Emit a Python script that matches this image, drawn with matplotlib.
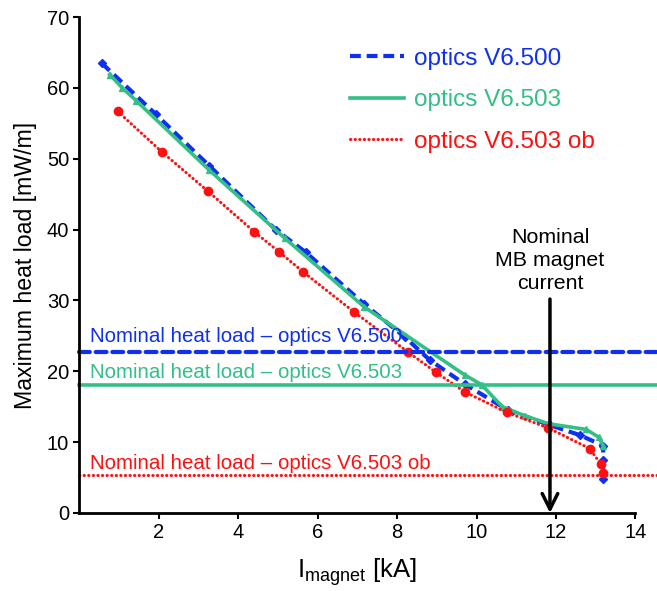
import matplotlib
matplotlib.use("Agg")
import matplotlib.pyplot as plt

# ---- data ----
x_v6500 = [0.56, 1.92, 3.27, 4.96, 5.70, 7.17, 8.20, 8.82, 9.70, 10.80, 11.85, 12.60, 13.19, 13.19, 13.19]
y_v6500 = [63.5, 56.3, 49.0, 39.9, 36.8, 29.5, 24.8, 21.6, 18.2, 14.5, 12.4, 11.0, 9.5, 7.5, 4.8]

x_v6503 = [0.76, 1.08, 1.43, 3.27, 5.17, 7.17, 9.70, 10.13, 10.65, 11.23, 11.81, 12.76, 13.08, 13.19]
y_v6503 = [61.9, 60.0, 58.2, 48.4, 38.8, 29.1, 19.5, 18.1, 15.0, 13.7, 12.6, 11.8, 10.7, 9.5]

x_v6503ob = [0.96, 2.07, 3.24, 4.40, 5.02, 5.64, 6.91, 8.28, 8.97, 9.70, 10.76, 11.81, 12.85, 13.13, 13.19]
y_v6503ob = [56.7, 51.0, 45.4, 39.7, 36.9, 34.0, 28.4, 22.7, 19.9, 17.1, 14.2, 12.0, 9.1, 6.9, 5.7]

nominal_loads = [22.7, 18.1, 5.3]
nominal_labels = ["Nominal heat load \u2013 optics V6.500",
                  "Nominal heat load \u2013 optics V6.503",
                  "Nominal heat load \u2013 optics V6.503 ob"]
series_labels = ["optics V6.500", "optics V6.503", "optics V6.503 ob"]
nominal_current = 11.85

xticks = [2, 4, 6, 8, 10, 12, 14]
yticks = [0, 10, 20, 30, 40, 50, 60, 70]

BLUE = "#1030F0"
GREEN = "#33BF86"
RED = "#FF1010"

plt.rcParams['font.family'] = ['Liberation Sans', 'DejaVu Sans']

fig = plt.figure(figsize=(6.57, 5.91), dpi=100)
ax = fig.add_axes([0.121, 0.132, 0.846, 0.839])

blue_dash = (0, (2.6, 1.4))
red_dot = (0, (0.1, 1.4))

l1, = ax.plot(x_v6500, y_v6500, color=BLUE, lw=3, linestyle=blue_dash,
              marker='D', ms=4, label=series_labels[0])
l2, = ax.plot(x_v6503, y_v6503, color=GREEN, lw=2.6, linestyle='-',
              marker='^', ms=5, label=series_labels[1])
l3, = ax.plot(x_v6503ob, y_v6503ob, color=RED, lw=2.2, linestyle=red_dot,
              dash_capstyle='round', marker='o', ms=6, label=series_labels[2])

# nominal heat load lines extending to the figure edge
styles = [(BLUE, blue_dash, 3), (GREEN, '-', 2.6), (RED, red_dot, 2.2)]
text_offsets = [0.9, 0.35, 0.35]
for val, lab, (c, ls, lw), off in zip(nominal_loads, nominal_labels, styles, text_offsets):
    ax.plot([0, 14.55], [val, val], color=c, linestyle=ls, lw=lw,
            dash_capstyle='round', clip_on=False)
    ax.text(0.26, val + off, lab, color=c, fontsize=14.8, ha='left', va='bottom')

# nominal current arrow
ax.annotate("", xy=(nominal_current, 0), xytext=(nominal_current, 30.2),
            arrowprops=dict(arrowstyle='->', lw=2.5, color='black',
                            mutation_scale=28, shrinkA=0, shrinkB=0))
ax.text(nominal_current, 31.0, "Nominal\nMB magnet\ncurrent", ha='center',
        va='bottom', fontsize=15.4, linespacing=1.28)

ax.set_xlim(0, 14)
ax.set_ylim(0, 70)
ax.set_xticks(xticks)
ax.set_yticks(yticks)
ax.tick_params(labelsize=14.5, direction='out', length=4, width=1.5)
for s in ['top', 'right']:
    ax.spines[s].set_visible(False)
for s in ['left', 'bottom']:
    ax.spines[s].set_linewidth(2)

ax.set_ylabel("Maximum heat load [mW/m]", fontsize=16.7, labelpad=7)
ax.set_xlabel(r"I$_{\mathregular{magnet}}$ [kA]", fontsize=18.5, labelpad=10)

leg = ax.legend(handles=[l1, l2, l3], loc='upper left',
                bbox_to_anchor=(0.448, 0.982), frameon=False, fontsize=17.5,
                handlelength=2.2, handletextpad=0.42, labelspacing=0.8)
for h in leg.legend_handles:
    h.set_marker('')
for t, c in zip(leg.get_texts(), [BLUE, GREEN, RED]):
    t.set_color(c)

fig.savefig("out.png", dpi=100)
